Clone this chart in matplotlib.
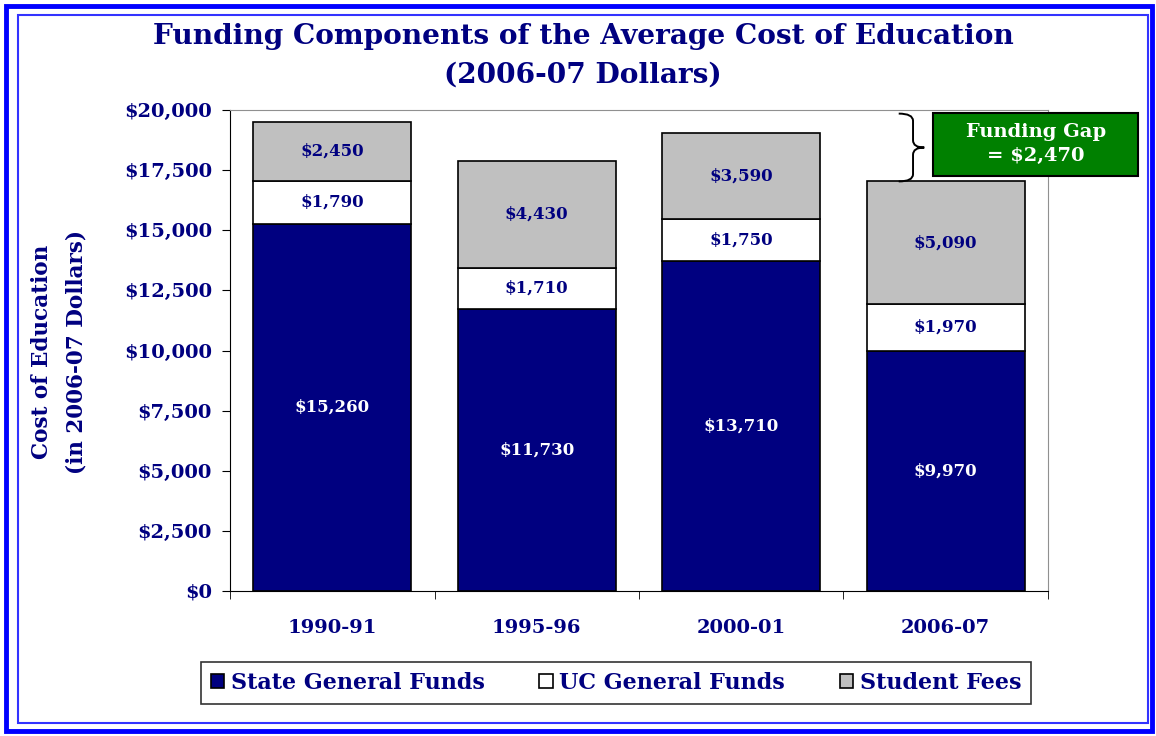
import numpy as np
import matplotlib.pyplot as plt
from matplotlib.patches import Rectangle, PathPatch
from matplotlib.path import Path
from matplotlib.ticker import FuncFormatter

# data
years = ["1990-91", "1995-96", "2000-01", "2006-07"]
state_funds = [15260, 11730, 13710, 9970]
uc_funds = [1790, 1710, 1750, 1970]
student_fees = [2450, 4430, 3590, 5090]
series_names = ["State General Funds", "UC General Funds", "Student Fees"]
gap = 2470

NAVY = "#000080"
GRAY = "#C0C0C0"

plt.rcParams['font.family'] = 'DejaVu Serif'
plt.rcParams['font.weight'] = 'bold'

fig = plt.figure(figsize=(11.56, 7.36), dpi=100)
W, H = 1156, 736

def fx(px):
    return px / W

def fy(py):
    return 1 - py / H

# blue frames
fig.patches.append(Rectangle((fx(6), fy(731)), fx(1146), 725 / H, transform=fig.transFigure,
                             fill=False, edgecolor="#0000FF", linewidth=3.5))
fig.patches.append(Rectangle((fx(18), fy(723)), fx(1130), 708 / H, transform=fig.transFigure,
                             fill=False, edgecolor="#3333FF", linewidth=1.5))

ax = fig.add_axes([fx(230), fy(591), fx(818), 481 / H])

x = np.arange(len(years))
w = 0.775
state = np.array(state_funds)
uc = np.array(uc_funds)
fees = np.array(student_fees)

b1 = ax.bar(x, state, w, color=NAVY, edgecolor="black", linewidth=1.2, label=series_names[0])
b2 = ax.bar(x, uc, w, bottom=state, color="white", edgecolor="black", linewidth=1.2, label=series_names[1])
b3 = ax.bar(x, fees, w, bottom=state + uc, color=GRAY, edgecolor="black", linewidth=1.2, label=series_names[2])

for i in range(len(years)):
    ax.text(x[i], state[i] / 2, "${:,}".format(state[i]), ha="center", va="center",
            color="white", fontsize=12, fontweight="bold")
    ax.text(x[i], state[i] + uc[i] / 2, "${:,}".format(uc[i]), ha="center", va="center",
            color=NAVY, fontsize=12, fontweight="bold")
    ax.text(x[i], state[i] + uc[i] + fees[i] / 2, "${:,}".format(fees[i]), ha="center", va="center",
            color=NAVY, fontsize=12, fontweight="bold")

ax.set_xlim(-0.5, len(years) - 0.5)
ax.set_ylim(0, 20000)
ax.set_yticks(np.arange(0, 20001, 2500))
ax.yaxis.set_major_formatter(FuncFormatter(lambda v, p: "${:,.0f}".format(v)))
ax.set_xticks(x)
ax.set_xticklabels(years)
ax.set_xticks(np.arange(-0.5, len(years), 1), minor=True)
ax.tick_params(axis="x", which="major", length=0, pad=20, labelsize=14, labelcolor=NAVY)
ax.tick_params(axis="x", which="minor", length=6, direction="out", color="black")
ax.tick_params(axis="y", length=6, direction="out", labelsize=14, labelcolor=NAVY, pad=7)
for lab in ax.get_xticklabels() + ax.get_yticklabels():
    lab.set_fontweight("bold")
ax.spines["top"].set_color("#909090")
ax.spines["right"].set_color("#909090")
ax.spines["left"].set_color("black")
ax.spines["bottom"].set_color("black")

# brace for funding gap
lo = state[-1] + uc[-1] + fees[-1]
hi = lo + gap + 350
mid = (lo + hi) / 2
bx0, bv, bx1 = 2.77, 2.84, 2.895
r = 300
verts = [(bx0, hi), (bv, hi), (bv, hi - r), (bv, mid + r),
         (bv, mid), (bx1, mid),
         (bv, mid), (bv, mid - r), (bv, lo + r),
         (bv, lo), (bx0, lo)]
codes = [Path.MOVETO, Path.CURVE3, Path.CURVE3, Path.LINETO,
         Path.CURVE3, Path.CURVE3,
         Path.CURVE3, Path.CURVE3, Path.LINETO,
         Path.CURVE3, Path.CURVE3]
ax.add_patch(PathPatch(Path(verts, codes), fill=False, edgecolor="black", linewidth=1.4, clip_on=False))

# funding gap box
fig.patches.append(Rectangle((fx(933), fy(176)), fx(205), 63 / H, transform=fig.transFigure,
                             facecolor="#008000", edgecolor="black", linewidth=1.5, zorder=5))
fig.text(fx(1036), fy(144), "Funding Gap\n= ${:,}".format(gap), ha="center", va="center",
         color="white", fontsize=14, fontweight="bold", linespacing=1.45, zorder=6)

fig.text(fx(583), fy(37), "Funding Components of the Average Cost of Education",
         ha="center", va="center", color=NAVY, fontsize=20.2, fontweight="bold")
fig.text(fx(583), fy(75), "(2006-07 Dollars)",
         ha="center", va="center", color=NAVY, fontsize=20.2, fontweight="bold")

fig.text(fx(59), fy(352), "Cost of Education\n(in 2006-07 Dollars)", rotation=90,
         ha="center", va="center", color=NAVY, fontsize=15.5, fontweight="bold", linespacing=1.75)

leg = fig.legend(handles=[b1, b2, b3], loc="center", bbox_to_anchor=(fx(616), fy(683)),
                 ncol=3, frameon=True, fancybox=False, edgecolor="black",
                 prop={"size": 16, "weight": "bold"}, handlelength=0.6, handleheight=0.6,
                 handletextpad=0.3, columnspacing=2.45, borderpad=0.45, borderaxespad=0)
for t in leg.get_texts():
    t.set_color(NAVY)
leg.get_frame().set_linewidth(1.2)

fig.savefig("out.png", dpi=100)
